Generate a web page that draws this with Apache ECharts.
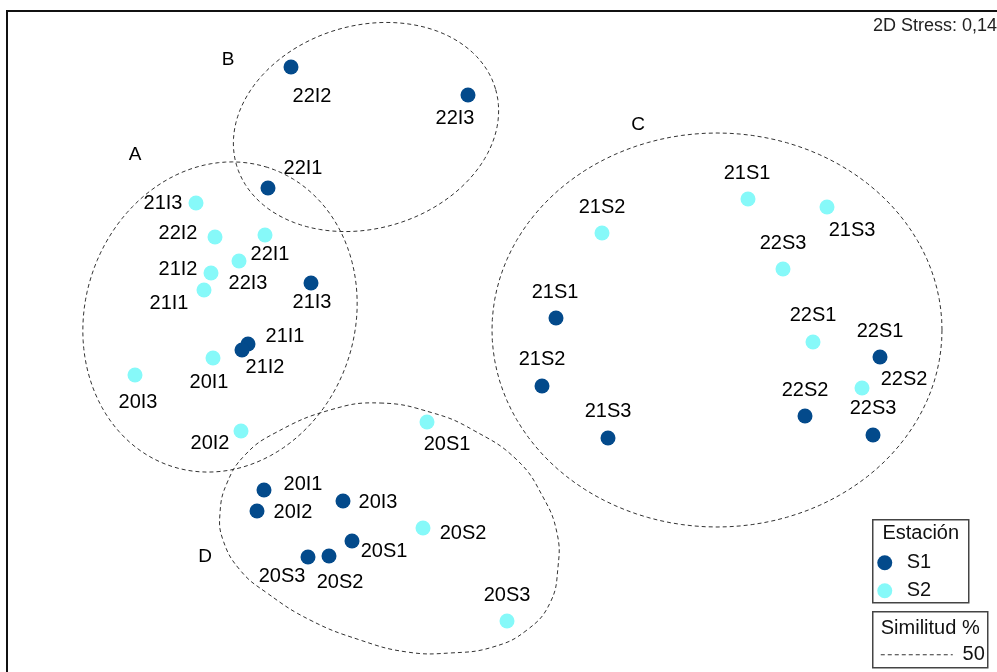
<!DOCTYPE html>
<html>
<head>
<meta charset="utf-8">
<script src="https://cdn.jsdelivr.net/npm/echarts@6/dist/echarts.min.js"></script>
<style>
  html, body { margin: 0; padding: 0; background: #fff; }
  #chart { width: 997px; height: 672px; }
</style>
</head>
<body>
<div id="chart"></div>
<script>
// nMDS ordination scores, station S1
const s1Labels = ['22I2','22I3','22I1','21I3','21I1','21I2','20I1','20I2','20I3','20S1','20S3','20S2','21S1','21S2','21S3','22S1','22S2','22S3'];
const s1X = [-1.045,-0.16,-1.16,-0.945,-1.26,-1.29,-1.18,-1.215,-0.785,-0.74,-0.96,-0.855,0.28,0.21,0.54,1.90,1.525,1.865];
const s1Y = [1.365,1.225,0.76,0.285,-0.02,-0.05,-0.75,-0.855,-0.805,-1.005,-1.085,-1.08,0.11,-0.23,-0.49,-0.085,-0.38,-0.475];

// nMDS ordination scores, station S2
const s2Labels = ['21I3','22I2','22I1','22I3','21I2','21I1','20I1','20I3','20I2','20S1','20S2','20S3','21S1','21S3','21S2','22S3','22S1','22S2'];
const s2X = [-1.52,-1.425,-1.175,-1.305,-1.445,-1.48,-1.435,-1.825,-1.295,-0.365,-0.385,0.035,1.24,1.635,0.51,1.415,1.565,1.81];
const s2Y = [0.685,0.515,0.525,0.395,0.335,0.25,-0.09,-0.175,-0.455,-0.41,-0.94,-1.405,0.705,0.665,0.535,0.355,-0.01,-0.24];

// 50 % similarity clusters: ellipses as [centreX, centreY, radiusAlong, radiusAcross, angleDeg]
const clusterNames = ['A', 'B', 'C', 'D'];
const clusterA = [-1.4, 0.115, 0.785, 0.675, 72.3];
const clusterB = [-0.67, 1.065, 0.675, 0.5075, 16.4];
const clusterC = [1.085, 0.05, 1.125, 0.985, 0];
// cluster D has an irregular outline
const clusterDX = [-0.6,-0.335,-0.135,0.085,0.215,0.285,0.29,0.25,0.135,-0.035,-0.25,-0.465,-0.7,-0.95,-1.165,-1.3,-1.385,-1.4,-1.365,-1.275,-1.125,-0.85];
const clusterDY = [-0.315,-0.365,-0.45,-0.6,-0.785,-0.965,-1.135,-1.315,-1.45,-1.535,-1.565,-1.56,-1.5,-1.4,-1.265,-1.15,-1.0,-0.865,-0.715,-0.575,-0.465,-0.35];
// where each cluster letter sits
const clusterLabelX = [-1.825, -1.36, 0.69, -1.475];
const clusterLabelY = [0.925, 1.4, 1.075, -1.085];

const stressText = '2D Stress: 0,14';
const similarityLevel = '50';

// ---- presentation ----
const FONT = "'Liberation Sans', Arial, sans-serif";
const COLOR_S1 = '#034a8b';
const COLOR_S2 = '#86f9f9';
const OUTLINE = '#333333';

// label offsets (px) from each marker centre
const s1LabelOffset = [[21,29],[-13,23],[35,-20],[1,19],[37,-8],[23,17],[39,-6],[36,1],[35,1],[32,10],[-26,19],[11,26],[-1,-26],[0,-27],[0,-27],[0,-26],[0,-26],[0,-27]];
const s2LabelOffset = [[-33,0],[-37,-4],[5,19],[9,22],[-33,-4],[-35,13],[-4,24],[3,27],[-31,12],[20,22],[40,5],[0,-26],[-1,-26],[25,23],[0,-26],[0,-26],[0,-27],[42,-9]];

function pointData(xs, ys, labels, offsets) {
  return xs.map((x, i) => ({
    value: [x, ys[i]],
    name: labels[i],
    label: { offset: offsets[i] }
  }));
}

function ellipsePoints(api, e) {
  const cx = e[0], cy = e[1], rx = e[2], ry = e[3];
  const t = e[4] * Math.PI / 180;
  const pts = [];
  const n = 120;
  for (let i = 0; i < n; i++) {
    const a = i / n * 2 * Math.PI;
    const ux = rx * Math.cos(a), uy = ry * Math.sin(a);
    pts.push(api.coord([cx + ux * Math.cos(t) - uy * Math.sin(t),
                        cy + ux * Math.sin(t) + uy * Math.cos(t)]));
  }
  return pts;
}

const outlineStyle = { fill: 'none', stroke: OUTLINE, lineWidth: 1, lineDash: [4, 3] };
const labelStyle = { show: true, position: 'inside', formatter: '{b}', color: '#000', fontSize: 20, fontFamily: FONT };

const chart = echarts.init(document.getElementById('chart'), null, { renderer: 'canvas' });

chart.setOption({
  animation: false,
  backgroundColor: '#fff',
  grid: { left: 0, right: 0, top: 0, bottom: 0 },
  xAxis: { type: 'value', min: -2.5, max: 2.485, show: false },
  yAxis: { type: 'value', min: -1.66, max: 1.70, show: false },
  series: [
    {
      // similarity outlines
      type: 'custom',
      name: 'clusters',
      silent: true,
      clip: false,
      z: 1,
      data: [[clusterA[0], clusterA[1]], [clusterB[0], clusterB[1]], [clusterC[0], clusterC[1]], [clusterDX[0], clusterDY[0]]],
      renderItem: function (params, api) {
        const i = params.dataIndex;
        if (i < 3) {
          const e = [clusterA, clusterB, clusterC][i];
          return { type: 'polygon', shape: { points: ellipsePoints(api, e) }, style: outlineStyle };
        }
        const pts = clusterDX.map((x, k) => api.coord([x, clusterDY[k]]));
        return { type: 'polygon', shape: { points: pts, smooth: 0.45 }, style: outlineStyle };
      }
    },
    {
      type: 'scatter',
      name: 'cluster letters',
      silent: true,
      symbolSize: 1,
      itemStyle: { color: 'rgba(255,255,255,0)', opacity: 1 },
      z: 2,
      data: clusterNames.map((n, i) => ({ value: [clusterLabelX[i], clusterLabelY[i]], name: n })),
      label: Object.assign({}, labelStyle, { fontSize: 19, color: '#000', opacity: 1 })
    },
    {
      type: 'scatter',
      name: 'S1',
      symbol: 'circle',
      symbolSize: 15,
      itemStyle: { color: COLOR_S1, opacity: 1 },
      z: 4,
      data: pointData(s1X, s1Y, s1Labels, s1LabelOffset),
      label: labelStyle
    },
    {
      type: 'scatter',
      name: 'S2',
      symbol: 'circle',
      symbolSize: 15,
      itemStyle: { color: COLOR_S2, opacity: 1 },
      z: 3,
      data: pointData(s2X, s2Y, s2Labels, s2LabelOffset),
      label: labelStyle
    }
  ],
  graphic: [
    // plot frame
    { type: 'rect', z: 0, silent: true,
      shape: { x: 7, y: 11, width: 1100, height: 800 },
      style: { fill: 'none', stroke: '#111', lineWidth: 2 } },
    { type: 'text', right: 0, top: 17, silent: true,
      style: { text: stressText, font: '18px ' + FONT, fill: '#222' } },
    // station legend
    { type: 'group', left: 872, top: 519, silent: true, children: [
      { type: 'rect', shape: { x: 0, y: 0, width: 96, height: 83 },
        style: { fill: '#fff', stroke: '#444', lineWidth: 1.5 } },
      { type: 'text', x: 48, y: 14, style: { text: 'Estación', font: '20px ' + FONT, fill: '#111', align: 'center', verticalAlign: 'middle' } },
      { type: 'circle', shape: { cx: 12, cy: 43, r: 7.5 }, style: { fill: COLOR_S1 } },
      { type: 'text', x: 34, y: 43, style: { text: 'S1', font: '20px ' + FONT, fill: '#111', verticalAlign: 'middle' } },
      { type: 'circle', shape: { cx: 12, cy: 71, r: 7.5 }, style: { fill: COLOR_S2 } },
      { type: 'text', x: 34, y: 71, style: { text: 'S2', font: '20px ' + FONT, fill: '#111', verticalAlign: 'middle' } }
    ]},
    // similarity legend
    { type: 'group', left: 872, top: 611, silent: true, children: [
      { type: 'rect', shape: { x: 0, y: 0, width: 115, height: 56 },
        style: { fill: '#fff', stroke: '#444', lineWidth: 1.5 } },
      { type: 'text', x: 8, y: 17, style: { text: 'Similitud %', font: '20px ' + FONT, fill: '#111', verticalAlign: 'middle' } },
      { type: 'line', shape: { x1: 8, y1: 43, x2: 80, y2: 43 }, style: { stroke: OUTLINE, lineWidth: 1, lineDash: [4, 3] } },
      { type: 'text', x: 112, y: 43, style: { text: similarityLevel, font: '20px ' + FONT, fill: '#111', align: 'right', verticalAlign: 'middle' } }
    ]}
  ]
});
</script>
</body>
</html>
